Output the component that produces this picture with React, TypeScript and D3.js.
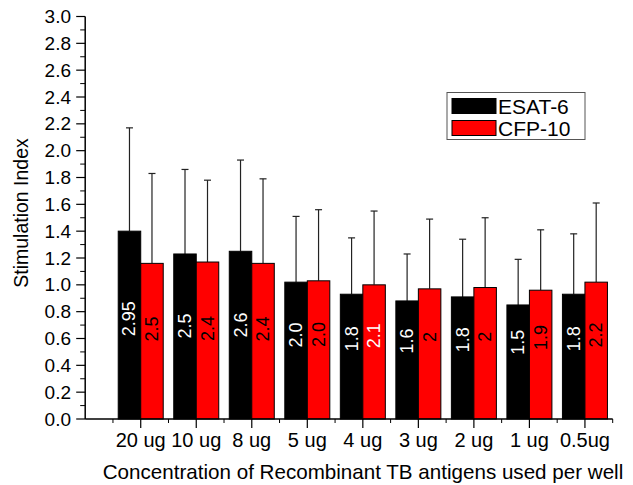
import React, { useRef, useEffect } from 'react';
import * as d3 from 'd3';

// concentrations on the x axis
const categories = ['20 ug', '10 ug', '8 ug', '5 ug', '4 ug', '3 ug', '2 ug', '1 ug', '0.5ug'];

// mean stimulation index (bar height) and upper error bar
const esatMean = [1.40, 1.23, 1.25, 1.02, 0.93, 0.88, 0.91, 0.85, 0.93];
const esatErr = [0.77, 0.63, 0.68, 0.49, 0.42, 0.35, 0.43, 0.34, 0.45];
const cfpMean = [1.16, 1.17, 1.16, 1.03, 1.00, 0.97, 0.98, 0.96, 1.02];
const cfpErr = [0.67, 0.61, 0.63, 0.53, 0.55, 0.52, 0.52, 0.45, 0.59];

// numbers printed inside the bars
const esatLabels = ['2.95', '2.5', '2.6', '2.0', '1.8', '1.6', '1.8', '1.5', '1.8'];
const cfpLabels = ['2.5', '2.4', '2.4', '2.0', '2.1', '2', '2', '1.9', '2.2'];

const yTicks = [0, 0.2, 0.4, 0.6, 0.8, 1.0, 1.2, 1.4, 1.6, 1.8, 2.0, 2.2, 2.4, 2.6, 2.8, 3.0];

const seriesNames = ['ESAT-6', 'CFP-10'];
const seriesColors = ['#000000', '#ff0000'];

export default function App() {
    const ref = useRef<SVGSVGElement>(null);

    useEffect(() => {
        const svg = d3.select(ref.current);
        svg.selectAll('*').remove();

        const width = 633;
        const height = 485;
        const font = '"Liberation Sans", Arial, sans-serif';

        const x = d3.scaleLinear().domain([0, 9.5]).range([85.2, 612.7]);
        const y = d3.scaleLinear().domain([0, 3]).range([419, 16.5]);
        const barW = 22.5;

        svg.attr('width', width).attr('height', height);

        const rows = categories.map((c, i) => ({
            i,
            cat: c,
            vals: [
                { s: 0, mean: esatMean[i], err: esatErr[i], label: esatLabels[i] },
                { s: 1, mean: cfpMean[i], err: cfpErr[i], label: cfpLabels[i] },
            ],
        }));

        // bars
        const groups = svg.append('g')
            .selectAll('g')
            .data(rows)
            .join('g');

        const bars = groups.selectAll('g')
            .data(d => d.vals.map(v => ({ ...v, pos: d.i + 1, cat: d.cat })))
            .join('g');

        const bx = (d: any) => x(d.pos) + (d.s === 0 ? -barW : 0);

        // error bars (upper only, drawn first so the bar covers the stem)
        bars.append('line')
            .attr('x1', d => bx(d) + barW / 2)
            .attr('x2', d => bx(d) + barW / 2)
            .attr('y1', d => y(d.mean))
            .attr('y2', d => y(d.mean + d.err))
            .attr('stroke', '#222')
            .attr('stroke-width', 1.2);
        bars.append('line')
            .attr('x1', d => bx(d) + barW / 2 - 3.5)
            .attr('x2', d => bx(d) + barW / 2 + 3.5)
            .attr('y1', d => y(d.mean + d.err))
            .attr('y2', d => y(d.mean + d.err))
            .attr('stroke', '#222')
            .attr('stroke-width', 1.2);

        bars.append('rect')
            .attr('x', d => bx(d))
            .attr('y', d => y(d.mean))
            .attr('width', barW)
            .attr('height', d => y(0) - y(d.mean))
            .attr('fill', d => seriesColors[d.s])
            .attr('stroke', '#000')
            .attr('stroke-width', 1);

        // rotated value labels
        bars.append('text')
            .attr('transform', d => `translate(${bx(d) + barW / 2 + 6},${y(0.3 + 0.32 * d.mean)}) rotate(-90)`)
            .attr('text-anchor', 'middle')
            .attr('font-family', font)
            .attr('font-size', 18)
            .attr('fill', d => (d.s === 0 || d.label === '2.1' ? '#fff' : '#000'))
            .text(d => d.label);

        // y axis
        const yAxis = svg.append('g').attr('font-family', font);
        yAxis.append('line')
            .attr('x1', x(0)).attr('x2', x(0))
            .attr('y1', y(0)).attr('y2', y(3))
            .attr('stroke', '#000').attr('stroke-width', 1.5);
        yAxis.selectAll('line.minor')
            .data(d3.range(0.1, 3, 0.2))
            .join('line')
            .attr('class', 'minor')
            .attr('x1', x(0) - 5).attr('x2', x(0))
            .attr('y1', d => y(d)).attr('y2', d => y(d))
            .attr('stroke', '#000').attr('stroke-width', 1);
        yAxis.selectAll('line.major')
            .data(yTicks)
            .join('line')
            .attr('class', 'major')
            .attr('x1', x(0) - 9).attr('x2', x(0))
            .attr('y1', d => y(d)).attr('y2', d => y(d))
            .attr('stroke', '#000').attr('stroke-width', 1.2);
        yAxis.selectAll('text')
            .data(yTicks)
            .join('text')
            .attr('x', 71)
            .attr('y', d => y(d))
            .attr('dy', '0.35em')
            .attr('text-anchor', 'end')
            .attr('font-size', 19)
            .text(d => d3.format('.1f')(d));

        // x axis
        const xAxis = svg.append('g').attr('font-family', font);
        xAxis.append('line')
            .attr('x1', x(0)).attr('x2', x(9.5))
            .attr('y1', y(0)).attr('y2', y(0))
            .attr('stroke', '#000').attr('stroke-width', 1.5);
        xAxis.selectAll('line.minor')
            .data(d3.range(0.5, 10, 1))
            .join('line')
            .attr('class', 'minor')
            .attr('x1', d => x(d)).attr('x2', d => x(d))
            .attr('y1', y(0)).attr('y2', y(0) + 4)
            .attr('stroke', '#000').attr('stroke-width', 1);
        xAxis.selectAll('line.major')
            .data(categories)
            .join('line')
            .attr('class', 'major')
            .attr('x1', (d, i) => x(i + 1)).attr('x2', (d, i) => x(i + 1))
            .attr('y1', y(0)).attr('y2', y(0) + 9)
            .attr('stroke', '#000').attr('stroke-width', 1.2);
        xAxis.selectAll('text')
            .data(categories)
            .join('text')
            .attr('x', (d, i) => x(i + 1))
            .attr('y', 447)
            .attr('text-anchor', 'middle')
            .attr('font-size', 20)
            .text(d => d);

        // axis titles
        svg.append('text')
            .attr('x', 363)
            .attr('y', 479)
            .attr('text-anchor', 'middle')
            .attr('font-family', font)
            .attr('font-size', 20.6)
            .text('Concentration of Recombinant TB antigens used per well');
        svg.append('text')
            .attr('transform', 'translate(28,213) rotate(-90)')
            .attr('text-anchor', 'middle')
            .attr('font-family', font)
            .attr('font-size', 19.5)
            .text('Stimulation Index');

        // legend
        const legend = svg.append('g').attr('font-family', font);
        legend.append('rect')
            .attr('x', 447).attr('y', 92.5)
            .attr('width', 138).attr('height', 47)
            .attr('fill', '#fff').attr('stroke', '#555').attr('stroke-width', 1);
        const items = legend.selectAll('g')
            .data(seriesNames)
            .join('g')
            .attr('transform', (d, i) => `translate(452,${98.5 + i * 22})`);
        items.append('rect')
            .attr('width', 44).attr('height', 15)
            .attr('fill', (d, i) => seriesColors[i])
            .attr('stroke', '#000');
        items.append('text')
            .attr('x', 46).attr('y', 7.5)
            .attr('dy', '0.36em')
            .attr('font-size', 21)
            .text(d => d);
    }, []);

    return <svg ref={ref} style={{ position: 'absolute', left: 0, top: 0 }} />;
}
